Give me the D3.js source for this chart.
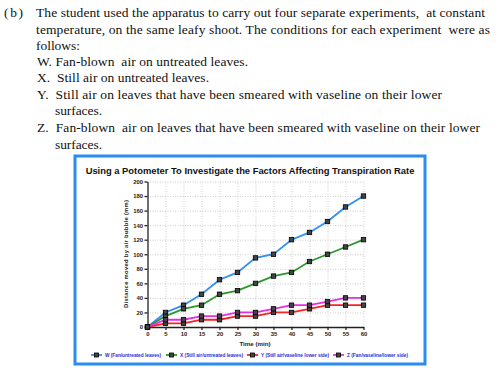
<!DOCTYPE html>
<html>
<head>
<meta charset="utf-8">
<script src="https://cdn.jsdelivr.net/npm/d3@7"></script>
<style>
  body { margin: 0; background: #fff; }
  svg { display: block; }
  .para { font-family: "Liberation Serif", "Times New Roman", serif; font-size: 13.5px; fill: #111; }
  .axis text { font-family: "Liberation Sans", Arial, sans-serif; font-weight: bold; font-size: 5.9px; fill: #222; }
  .axis path, .axis line { stroke: #222; }
  .grid line { stroke: #ccc; stroke-dasharray: 1,1.5; }
  .grid path { display: none; }
</style>
</head>
<body>
<div class="chart-container"></div>
<script>
// question text lines: [text, x, baseline, width]
var paraLines = [
  ['(b)', 4, 17, 19],
  ['The student used the apparatus to carry out four separate experiments,  at constant', 36, 17, 449],
  ['temperature, on the same leafy shoot. The conditions for each experiment  were as', 36, 33.5, 454],
  ['follows:', 36, 50, 44],
  ['W. Fan-blown  air on untreated leaves.', 37, 65.5, 211],
  ['X.  Still air on untreated leaves.', 37, 82, 172],
  ['Y.  Still air on leaves that have been smeared with vaseline on their lower', 37, 98.5, 405],
  ['surfaces.', 55, 115, 47],
  ['Z.  Fan-blown  air on leaves that have been smeared with vaseline on their lower', 37, 132, 443],
  ['surfaces.', 55, 149, 47]
];

var times = [0, 5, 10, 15, 20, 25, 30, 35, 40, 45, 50, 55, 60];
var seriesW = [0, 20, 30, 45, 65, 75, 95, 100, 120, 130, 145, 165, 180];
var seriesX = [0, 15, 25, 30, 45, 50, 60, 70, 75, 90, 100, 110, 120];
var seriesY = [0, 5, 5, 10, 10, 15, 15, 20, 20, 25, 30, 30, 30];
var seriesZ = [0, 10, 10, 15, 15, 20, 20, 25, 30, 30, 35, 40, 40];
var seriesNames = ['W (Fan/untreated leaves)', 'X (Still air/untreated leaves)', 'Y (Still air/vaseline lower side)', 'Z (Fan/vaseline/lower side)'];
var seriesColors = ['#2f8ff5', '#2e962e', '#f52424', '#e62ee6'];
var xTicks = d3.range(0, 61, 5);
var yTicks = d3.range(0, 201, 20);

var series = [seriesW, seriesX, seriesY, seriesZ].map(function (vals, i) {
  return {
    name: seriesNames[i],
    color: seriesColors[i],
    values: vals.map(function (v, j) { return {t: times[j], v: v}; })
  };
});

var svg = d3.select('.chart-container').append('svg')
  .attr('width', 500)
  .attr('height', 375);

svg.append('rect').attr('width', 500).attr('height', 375).attr('fill', '#fff');

// question text
paraLines.forEach(function (l) {
  svg.append('text')
    .attr('class', 'para')
    .attr('x', l[1])
    .attr('y', l[2])
    .attr('xml:space', 'preserve')
    .style('white-space', 'pre')
    .attr('textLength', l[3])
    .attr('lengthAdjust', 'spacing')
    .text(l[0]);
});

// blue frame
svg.append('rect')
  .attr('x', 75).attr('y', 156)
  .attr('width', 350).attr('height', 208)
  .attr('fill', '#fff')
  .attr('stroke', '#2a8cf2')
  .attr('stroke-width', 3);

svg.append('text')
  .attr('x', 250).attr('y', 174)
  .attr('text-anchor', 'middle')
  .style('font-family', '"Liberation Sans", Arial, sans-serif')
  .style('font-weight', 'bold')
  .style('font-size', '9.4px')
  .attr('fill', '#111')
  .text('Using a Potometer To Investigate the Factors Affecting Transpiration Rate');

var x = d3.scaleLinear().domain([0, 60]).range([147.5, 363.5]);
var y = d3.scaleLinear().domain([0, 200]).range([327, 181.5]);

// grid
svg.append('g')
  .attr('class', 'grid')
  .attr('transform', 'translate(0,327)')
  .call(d3.axisBottom(x).tickValues(xTicks.slice(1)).tickSize(-(327 - 181.5)).tickFormat(''));
svg.append('g')
  .attr('class', 'grid')
  .attr('transform', 'translate(147.5,0)')
  .call(d3.axisLeft(y).tickValues(yTicks.slice(1)).tickSize(-(363.5 - 147.5)).tickFormat(''));

// axes
svg.append('g')
  .attr('class', 'x axis')
  .attr('transform', 'translate(0,327)')
  .call(d3.axisBottom(x).tickValues(xTicks).tickSize(3).tickSizeOuter(0).tickPadding(2));
svg.append('g')
  .attr('class', 'y axis')
  .attr('transform', 'translate(147.5,0)')
  .call(d3.axisLeft(y).tickValues(yTicks).tickSize(3).tickSizeOuter(0).tickPadding(1.5));
svg.selectAll('.axis path, .axis line').attr('stroke-width', 1.3);

svg.append('text')
  .attr('x', 255).attr('y', 346)
  .attr('text-anchor', 'middle')
  .style('font-family', '"Liberation Sans", Arial, sans-serif')
  .style('font-weight', 'bold')
  .style('font-size', '6.2px')
  .attr('fill', '#222')
  .text('Time (min)');

svg.append('text')
  .attr('transform', 'translate(128,254) rotate(-90)')
  .attr('text-anchor', 'middle')
  .style('font-family', '"Liberation Sans", Arial, sans-serif')
  .style('font-weight', 'bold')
  .style('font-size', '5.8px')
  .attr('fill', '#222')
  .attr('textLength', 108)
  .text('Distance moved by air bubble (mm)');

// lines and markers
var line = d3.line()
  .x(function (d) { return x(d.t); })
  .y(function (d) { return y(d.v); });

var groups = svg.selectAll('.series').data(series).enter().append('g').attr('class', 'series');
groups.append('path')
  .attr('d', function (d) { return line(d.values); })
  .attr('fill', 'none')
  .attr('stroke', function (d) { return d.color; })
  .attr('stroke-width', 1.8);
groups.selectAll('.pt').data(function (d) { return d.values; }).enter().append('rect')
  .attr('class', 'pt')
  .attr('x', function (d) { return x(d.t) - 2.2; })
  .attr('y', function (d) { return y(d.v) - 2.2; })
  .attr('width', 4.4).attr('height', 4.4)
  .attr('fill', '#444')
  .attr('stroke', '#000')
  .attr('stroke-width', 0.8);

// legend
var legendX = [91, 166, 247, 333];
var legendW = [56, 63, 68, 61];
var legend = svg.selectAll('.legend').data(series).enter().append('g')
  .attr('class', 'legend')
  .attr('transform', function (d, i) { return 'translate(' + legendX[i] + ',355)'; });
legend.append('line')
  .attr('x1', 0).attr('x2', 11)
  .attr('stroke', function (d) { return d.color; })
  .attr('stroke-width', 1.8);
legend.append('rect')
  .attr('x', 3.5).attr('y', -2).attr('width', 4).attr('height', 4)
  .attr('fill', '#444').attr('stroke', '#000').attr('stroke-width', 0.8);
legend.append('text')
  .attr('x', 14).attr('y', 1.7)
  .attr('textLength', function (d, i) { return legendW[i]; })
  .attr('lengthAdjust', 'spacingAndGlyphs')
  .style('font-family', '"Liberation Sans", Arial, sans-serif')
  .style('font-weight', 'bold')
  .style('font-size', '4.6px')
  .attr('fill', '#2b2bd6')
  .text(function (d) { return d.name; });
</script>
</body>
</html>
